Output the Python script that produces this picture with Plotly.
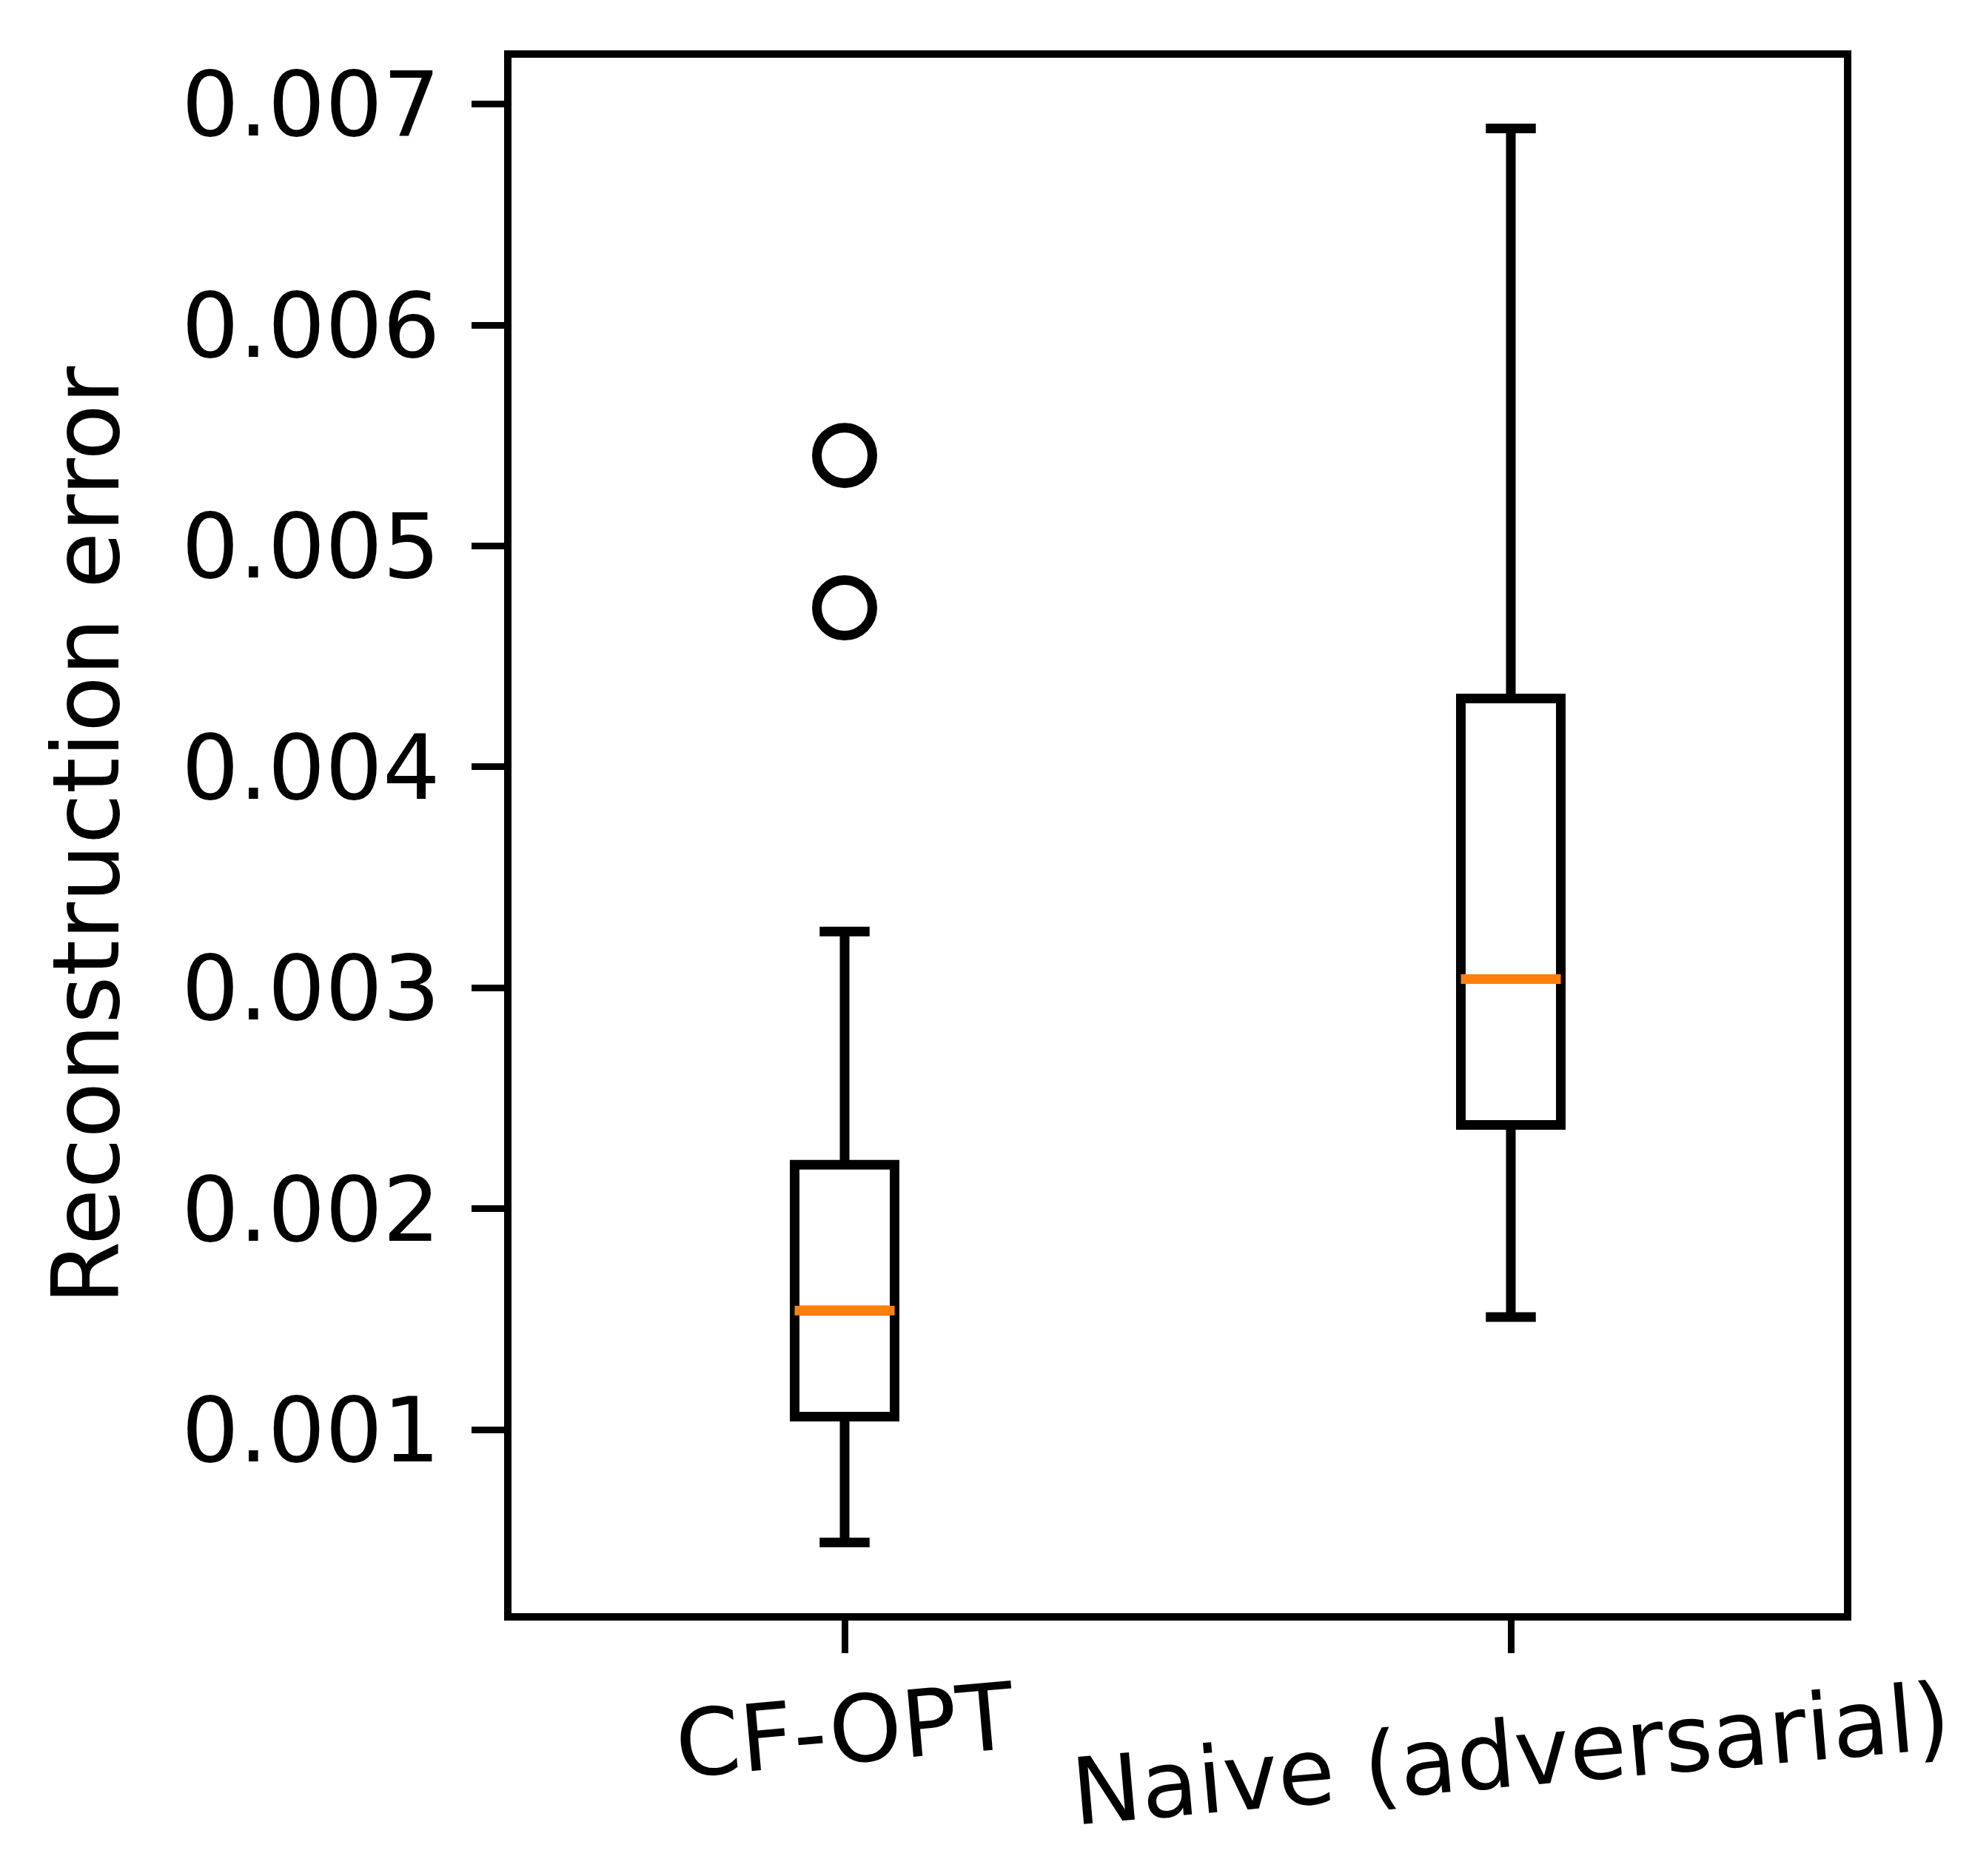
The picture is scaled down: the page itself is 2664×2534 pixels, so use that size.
import plotly.graph_objects as go

# ---- data ----
categories = ["CF-OPT", "Naive (adversarial)"]
positions = [1, 2]
q1 = [0.00106, 0.00238]
median = [0.00154, 0.00304]
q3 = [0.00220, 0.00431]
lower_whisker = [0.00049, 0.00151]
upper_whisker = [0.003255, 0.00689]
outliers = [[0.00541, 0.00472], []]
y_tick_vals = [0.001, 0.002, 0.003, 0.004, 0.005, 0.006, 0.007]
y_tick_text = ["0.001", "0.002", "0.003", "0.004", "0.005", "0.006", "0.007"]
y_title = "Reconstruction error"

# ---- style ----
FONT = "DejaVu Sans"
FS_TICK = 122
FS_XLAB = 125
FS_TITLE = 124
LW = 13
BOX_W = 0.15
ORANGE = "#ff7f0e"

fig = go.Figure()

for i, pos in enumerate(positions):
    fig.add_trace(go.Box(
        x=[pos], q1=[q1[i]], median=[median[i]], q3=[q3[i]],
        lowerfence=[lower_whisker[i]], upperfence=[upper_whisker[i]],
        width=BOX_W, whiskerwidth=0.5,
        line=dict(color="black", width=LW),
        fillcolor="rgba(255,255,255,0)",
        boxpoints=False, showlegend=False, hoverinfo="skip",
    ))
    # orange median line
    fig.add_trace(go.Scatter(
        x=[pos - BOX_W / 2, pos + BOX_W / 2], y=[median[i], median[i]],
        mode="lines", line=dict(color=ORANGE, width=LW),
        showlegend=False, hoverinfo="skip",
    ))
    if outliers[i]:
        fig.add_trace(go.Scatter(
            x=[pos] * len(outliers[i]), y=outliers[i], mode="markers",
            marker=dict(symbol="circle-open", size=75, color="black",
                        line=dict(width=LW, color="black")),
            showlegend=False, hoverinfo="skip",
        ))

# matplotlib-style autoscale with 5% margin
all_vals = lower_whisker + upper_whisker + [v for o in outliers for v in o]
lo, hi = min(all_vals), max(all_vals)
span = hi - lo
y_range = [lo - 0.05 * span, hi + 0.05 * span]

# x tick labels as rotated annotations
annotations = []
for pos, cat in zip(positions, categories):
    annotations.append(dict(
        x=pos, xref="x", y=0, yref="paper", text=cat, showarrow=False,
        xanchor="center", yanchor="top", yshift=-64, textangle=-5,
        font=dict(family=FONT, size=FS_XLAB, color="black"),
    ))
# y axis title (paper x chosen so its centre sits ~108 px from the page edge)
L_MARGIN, R_MARGIN = 683, 181
plot_w = 2664 - L_MARGIN - R_MARGIN
annotations.append(dict(
    x=(108 - L_MARGIN) / plot_w, xref="paper", y=0.5, yref="paper",
    text=y_title, showarrow=False,
    xanchor="center", yanchor="middle", textangle=-90,
    font=dict(family=FONT, size=FS_TITLE, color="black"),
))

fig.update_layout(
    width=2664, height=2534,
    margin=dict(l=L_MARGIN, r=R_MARGIN, t=70, b=363),
    paper_bgcolor="white", plot_bgcolor="white",
    font=dict(family=FONT, size=FS_TICK, color="black"),
    annotations=annotations,
    xaxis=dict(
        range=[0.5, 2.5], tickvals=positions, ticktext=["", ""],
        showticklabels=False, ticks="outside", ticklen=44, tickwidth=9,
        tickcolor="black", showline=True, linewidth=10, linecolor="black",
        mirror=True, showgrid=False, zeroline=False,
    ),
    yaxis=dict(
        range=y_range, tickvals=y_tick_vals, ticktext=y_tick_text,
        ticks="outside", ticklen=44, tickwidth=9, tickcolor="black",
        showline=True, linewidth=10, linecolor="black", mirror=True,
        showgrid=False, zeroline=False, ticklabelstandoff=18,
        tickfont=dict(family=FONT, size=FS_TICK, color="black"),
    ),
)

fig.write_html("out.html")
